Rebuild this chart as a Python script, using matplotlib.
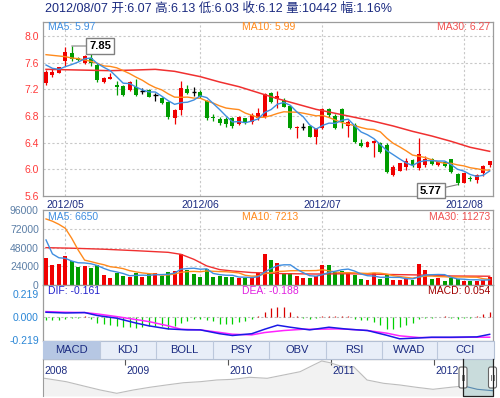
import numpy as np
import pandas as pd
import matplotlib
matplotlib.use("Agg")
import matplotlib.pyplot as plt
from matplotlib.patches import Rectangle, FancyBboxPatch
import matplotlib.transforms as mtransforms

plt.rcParams['font.family'] = ['Liberation Sans', 'Noto Sans CJK SC']

# Daily K-line, 2012/04/25 - 2012/08/07 (70 trading days)
opens = [7.30, 7.42, 7.45, 7.62, 7.75, 7.665, 7.59, 7.665, 7.565, 7.315,
         7.36, 7.26, 7.25, 7.19, 7.24, 7.17, 7.19, 7.11, 7.07, 7.01,
         6.77, 6.89, 7.205, 7.165, 7.165, 7.02, 6.785, 6.75, 6.75, 6.765,
         6.675, 6.765, 6.715, 6.765, 6.79, 7.14, 7.055, 7.04, 6.955, 6.62,
         6.64, 6.655, 6.49, 6.62, 6.905, 6.80, 6.905, 6.655, 6.66, 6.40,
         6.34, 6.40, 6.39, 6.36, 5.92, 5.98, 6.04, 6.14, 6.02, 6.07,
         6.15, 6.065, 6.115, 6.15, 5.93, 5.80, 5.865, 5.84, 5.94, 6.07]
highs = [7.49, 7.50, 7.54, 7.83, 7.85, 7.68, 7.71, 7.73, 7.59, 7.39,
         7.445, 7.32, 7.26, 7.33, 7.35, 7.22, 7.20, 7.14, 7.09, 7.02,
         6.90, 7.33, 7.26, 7.24, 7.19, 7.04, 6.83, 6.79, 6.79, 6.79,
         6.80, 6.77, 6.84, 6.915, 7.15, 7.165, 7.175, 7.07, 6.96, 6.65,
         6.69, 6.67, 6.62, 6.92, 6.925, 6.83, 6.925, 6.74, 6.70, 6.46,
         6.43, 6.44, 6.41, 6.39, 6.06, 6.10, 6.165, 6.16, 6.47, 6.20,
         6.17, 6.12, 6.13, 6.16, 5.94, 5.95, 5.90, 5.93, 6.07, 6.13]
lows = [7.26, 7.39, 7.44, 7.55, 7.63, 7.62, 7.58, 7.555, 7.315, 7.29,
        7.35, 7.12, 7.10, 7.18, 7.105, 7.13, 7.08, 7.02, 6.985, 6.75,
        6.68, 6.82, 7.135, 7.10, 7.075, 6.74, 6.72, 6.665, 6.63, 6.615,
        6.665, 6.68, 6.675, 6.74, 6.765, 6.99, 6.925, 6.93, 6.61, 6.47,
        6.59, 6.48, 6.375, 6.60, 6.79, 6.61, 6.625, 6.49, 6.40, 6.33,
        6.33, 6.18, 6.25, 5.94, 5.90, 5.97, 5.99, 6.04, 5.99, 6.04,
        6.07, 6.05, 6.04, 5.95, 5.77, 5.79, 5.82, 5.80, 5.90, 6.03]
closes = [7.46, 7.455, 7.53, 7.765, 7.65, 7.645, 7.70, 7.59, 7.34, 7.375,
          7.39, 7.24, 7.115, 7.315, 7.115, 7.17, 7.09, 7.11, 7.00, 6.78,
          6.895, 7.215, 7.145, 7.165, 7.09, 6.765, 6.775, 6.69, 6.675, 6.65,
          6.79, 6.69, 6.815, 6.84, 7.13, 7.005, 7.10, 6.94, 6.625, 6.64,
          6.64, 6.49, 6.615, 6.905, 6.815, 6.625, 6.715, 6.705, 6.41, 6.35,
          6.41, 6.425, 6.26, 5.965, 6.04, 6.09, 6.13, 6.06, 6.23, 6.15,
          6.08, 6.105, 6.055, 5.965, 5.80, 5.94, 5.85, 5.915, 6.05, 6.12]

volumes = [34300, 25300, 26600, 36900, 30900, 23200, 24000, 21500, 25300, 12500,
           8600, 15900, 11600, 10800, 15000, 9900, 14600, 15900, 11600, 16800,
           18000, 39500, 19800, 13800, 10300, 20600, 9900, 12000, 9900, 9900,
           9500, 8600, 9500, 15900, 39500, 31800, 27900, 14600, 15900, 11200,
           9500, 8600, 11200, 25800, 25800, 17200, 18000, 15500, 12900, 7300,
           6000, 15900, 7300, 13800, 6000, 6000, 7300, 6000, 26600, 18900,
           7400, 8700, 5000, 9500, 8300, 5600, 4800, 5400, 7000, 10442]
# u = red (up) bar, d = green (down) bar
vol_dir = ("uuuudduddu" "uddudududd" "uudddddddd" "uduuududdu" "uduudddudd"
           "uudduuuduu" "duddduduuu")

# moving-average values read from the chart where the window is not full
ma5_head = [7.565, 7.515, 7.50, 7.54]
ma10_head = [7.72, 7.71, 7.70, 7.69, 7.67, 7.66, 7.64, 7.62, 7.59]
ma30_idx = [0, 5, 10, 14, 17, 20, 24, 27, 30, 33, 36, 39, 42, 45, 48, 51, 54, 57, 60, 63, 66, 69]
ma30_val = [7.50, 7.49, 7.48, 7.49, 7.50, 7.47, 7.39, 7.31, 7.24, 7.15, 7.06, 6.98,
            6.90, 6.84, 6.78, 6.72, 6.65, 6.57, 6.50, 6.42, 6.33, 6.27]

vma5_head = [57900, 40000, 35000, 34300]
vma10_head = [84900, 82000, 78000, 72900, 60000, 45000, 32000, 30000, 27900]
vma30_idx = [0, 4, 9, 14, 19, 21, 23, 25, 27, 29, 32, 37, 42, 47, 52, 58, 63, 69]
vma30_val = [48000, 47300, 46000, 44100, 42000, 39400, 33000, 24500, 19800, 18000,
             16000, 14600, 14100, 14500, 13700, 12900, 11600, 11273]

# MACD
macd_bar = [-0.025, -0.03, -0.03, -0.02, -0.01, -0.005, 0.008, -0.02, -0.05, -0.06,
            -0.07, -0.085, -0.09, -0.09, -0.10, -0.09, -0.085, -0.08, -0.085, -0.11,
            -0.08, -0.055, -0.035, -0.02, -0.015, -0.03, -0.04, -0.06, -0.065, -0.065,
            -0.045, -0.035, -0.02, 0.01, 0.05, 0.085, 0.095, 0.10, 0.05, 0.015,
            -0.01, -0.02, -0.01, 0.008, 0.015, 0.012, 0.015, 0.01, -0.02, -0.03,
            -0.03, -0.045, -0.075, -0.11, -0.11, -0.09, -0.07, -0.05, -0.02, -0.01,
            -0.005, 0.005, 0.01, -0.005, -0.015, -0.01, -0.005, 0.01, 0.03, 0.054]
dif_idx = [0, 3, 6, 8, 11, 14, 16, 19, 22, 24, 27, 29, 32, 34, 36, 38, 41, 44, 47,
           50, 53, 55, 58, 60, 63, 67, 69]
dif_val = [0.047, 0.040, 0.044, 0.016, -0.009, -0.055, -0.081, -0.11, -0.119, -0.119,
           -0.155, -0.172, -0.155, -0.113, -0.075, -0.094, -0.119, -0.094, -0.113,
           -0.125, -0.170, -0.203, -0.195, -0.188, -0.188, -0.185, -0.161]
dea_idx = [0, 3, 6, 8, 11, 14, 16, 19, 21, 24, 27, 29, 32, 34, 37, 40, 42, 45, 47,
           50, 53, 55, 58, 60, 63, 66, 69]
dea_val = [0.053, 0.047, 0.044, 0.031, 0.006, -0.022, -0.041, -0.081, -0.113, -0.119,
           -0.143, -0.160, -0.166, -0.144, -0.125, -0.113, -0.113, -0.110, -0.113,
           -0.125, -0.150, -0.175, -0.191, -0.191, -0.191, -0.188, -0.188]

month_idx = [3, 24, 43, 65]
month_labels = ['2012/05', '2012/06', '2012/07', '2012/08']

# long-term navigator (relative level, 2008 - 2012/08)
nav_year = [2008.20, 2008.22, 2008.43, 2008.60, 2008.76, 2008.92, 2009.08, 2009.24, 2009.40,
            2009.57, 2009.73, 2009.89, 2010.05, 2010.21, 2010.38, 2010.54, 2010.70,
            2010.83, 2010.91, 2010.99, 2011.09, 2011.22, 2011.35, 2011.51, 2011.67,
            2011.83, 2011.99, 2012.16, 2012.29, 2012.42, 2012.57]
nav_level = [17.5, 17.7, 14.3, 10.0, 6.0, 2.7, 6.0, 8.7, 11.0, 13.3, 14.3, 16.0, 16.7,
             18.7, 17.7, 21.0, 24.3, 31.0, 35.0, 33.3, 30.0, 29.3, 16.0, 12.7, 11.0,
             8.7, 6.7, 8.7, 10.0, 6.7, 5.3]
nav_years = [2009, 2010, 2011, 2012]

tabs = ['MACD', 'KDJ', 'BOLL', 'PSY', 'OBV', 'RSI', 'WVAD', 'CCI']

# ---------------------------------------------------------------
RED = '#f00000'
GREEN = '#009c00'
FRAME = '#9c9c9c'
GRID = '#c8c8c8'
NAVY = '#1a2a80'
MA5_C, MA10_C, MA30_C = '#3f8ee0', '#ff8a1c', '#f03030'
FS = 7.5

W, H = 500, 398
fig = plt.figure(figsize=(W / 100, H / 100), dpi=100)


def px_axes(l, t, r, b, **kw):
    return fig.add_axes([l / W, 1 - b / H, (r - l) / W, (b - t) / H], **kw)


def ftext(xp, yp, s, **kw):
    fig.text(xp / W, 1 - yp / H, s, **kw)


def style(a):
    for sp in a.spines.values():
        sp.set_color(FRAME)
        sp.set_linewidth(0.9)
    a.set_xticks([])
    a.tick_params(axis='y', length=0, pad=3, labelsize=FS)


x = np.arange(len(closes))
o = np.array(opens)
h = np.array(highs)
l = np.array(lows)
c = np.array(closes)
xlim = (-0.47, 69.52)

# ---- price panel
ax = px_axes(43, 22, 493, 196)
style(ax)
ax.set_xlim(*xlim)
ax.set_ylim(5.6, 8.21)
pticks = [5.6, 6.0, 6.4, 6.8, 7.2, 7.6, 8.0]
ax.set_yticks(pticks)
ax.set_yticklabels([f'{t:.1f}' for t in pticks], color='#ff3a3a')
for t in pticks[1:]:
    ax.axhline(t, color=GRID, lw=0.8, ls=(0, (2, 2)), zorder=1)
for m in month_idx:
    ax.axvline(m, color=GRID, lw=0.8, ls=(0, (2, 2)), zorder=1)

cols = np.where(c > o, RED, np.where(c < o, GREEN, 'black'))
ax.vlines(x, l, h, colors=cols, lw=0.9, zorder=3)
body = c != o
ax.bar(x[body], np.abs(c - o)[body], bottom=np.minimum(o, c)[body], width=0.62,
       color=cols[body], lw=0, zorder=4)
flat = ~body
ax.hlines(c[flat], x[flat] - 0.35, x[flat] + 0.35, colors='black', lw=1, zorder=4)

ma5 = pd.Series(closes).rolling(5).mean().to_numpy()
ma5[:4] = ma5_head
ma10 = pd.Series(closes).rolling(10).mean().to_numpy()
ma10[:9] = ma10_head
ax.plot(ma30_idx, ma30_val, color=MA30_C, lw=1.1, zorder=5)
ax.plot(x, ma10, color=MA10_C, lw=1.0, zorder=5)
ax.plot(x, ma5, color=MA5_C, lw=1.0, zorder=6)

hi = int(np.argmax(h))
lo = int(np.argmin(l))
box = dict(boxstyle='square,pad=0.25', fc='white', ec='#808080', lw=1)
line = dict(arrowstyle='-', color='#808080', lw=0.8, shrinkA=0, shrinkB=0)
ax.annotate(f'{h[hi]:.2f}', xy=(hi, h[hi]), xytext=(20.5, 0), textcoords='offset points',
            ha='center', va='center', fontsize=8, fontweight='bold', bbox=box,
            arrowprops=line, annotation_clip=False, zorder=8)
ax.annotate(f'{l[lo]:.2f}', xy=(lo, l[lo]), xytext=(-19.2, -4.3), textcoords='offset points',
            ha='center', va='center', fontsize=8, fontweight='bold', bbox=box,
            arrowprops=line, annotation_clip=False, zorder=8)

trans = mtransforms.blended_transform_factory(ax.transData, ax.transAxes)
for k, (m, lab) in enumerate(zip(month_idx, month_labels)):
    if k == 0:
        ax.text(0, -0.049, lab, transform=trans, ha='left', va='center',
                fontsize=FS, color=NAVY)
    else:
        ax.text(m, -0.049, lab, transform=trans, ha='center', va='center',
                fontsize=FS, color=NAVY)

# ---- volume panel
axv = px_axes(43, 209.5, 493, 285)
style(axv)
axv.set_xlim(*xlim)
axv.set_ylim(0, 97050)
vticks = [0, 24000, 48000, 72000, 96000]
axv.set_yticks(vticks)
axv.set_yticklabels([str(t) for t in vticks], color='#5b7ea6')
for t in vticks[1:4]:
    axv.axhline(t, color=GRID, lw=0.8, ls=(0, (2, 2)), zorder=1)
for m in month_idx:
    axv.axvline(m, color=GRID, lw=0.8, ls=(0, (2, 2)), zorder=1)
vcols = [RED if d == 'u' else GREEN for d in vol_dir]
axv.bar(x, volumes, width=0.62, color=vcols, lw=0, zorder=3)
vma5 = pd.Series(volumes).rolling(5).mean().to_numpy()
vma5[:4] = vma5_head
vma10 = pd.Series(volumes).rolling(10).mean().to_numpy()
vma10[:9] = vma10_head
axv.plot(vma30_idx, vma30_val, color=MA30_C, lw=1.0, zorder=4)
axv.plot(x, vma10, color=MA10_C, lw=1.0, zorder=4)
axv.plot(x, vma5, color=MA5_C, lw=1.0, zorder=5)

# ---- MACD panel
axm = px_axes(43, 285, 493, 340.5)
style(axm)
axm.set_xlim(*xlim)
axm.set_ylim(-0.218, 0.3036)
mticks = [-0.219, 0.0, 0.219]
axm.set_yticks(mticks)
axm.set_yticklabels(['-0.219', '0.000', '0.219'], color='#2a86d6')
axm.axhline(0, color='#bbbbbb', lw=0.8, ls=(0, (2, 2)), zorder=1)
mb = np.array(macd_bar)
axm.vlines(x, 0, mb, colors=np.where(mb >= 0, '#d80000', '#00d000'), lw=0.9, zorder=3)
axm.plot(dea_idx, dea_val, color='#ff22ff', lw=1.1, zorder=4)
axm.plot(dif_idx, dif_val, color='#1a1ae6', lw=1.1, zorder=5)

# ---- navigator
axn = px_axes(43, 359, 493, 396)
yr0 = 2009 + (43 - 125) / 103
yr1 = 2009 + (493 - 125) / 103
axn.set_xlim(yr0, yr1)
axn.set_ylim(0, 37)
axn.set_yticks([])
for k in ['right', 'bottom']:
    axn.spines[k].set_visible(False)
axn.spines['left'].set_color(FRAME)
axn.spines['top'].set_color('#222222')
axn.set_xticks(nav_years)
axn.tick_params(axis='x', top=True, bottom=False, direction='in', length=4,
                color='#555555', labeltop=False, labelbottom=False)
axn.fill_between(nav_year, nav_level, 0, color='#f2f2f2', lw=0)
axn.plot(nav_year, nav_level, color='#bdbdbd', lw=0.8)
sel0 = 2009 + (463 - 125) / 103
axn.axvspan(sel0, yr1, color='#c3d9d9', alpha=0.9, lw=0, zorder=3)
sel = [p for p in zip(nav_year, nav_level) if p[0] >= sel0 - 0.05]
axn.plot([p[0] for p in sel], [p[1] for p in sel], color='#5a8ab0', lw=0.8, zorder=4)
ntrans = mtransforms.blended_transform_factory(axn.transData, axn.transAxes)
for yv in [2008] + nav_years:
    xv = yr0 + 0.01 if yv == 2008 else yv + 0.012
    axn.text(xv, 0.68, str(yv), transform=ntrans, ha='left', va='center',
             fontsize=FS, color=NAVY, zorder=5)

# ---- overlay (tab bar, selection handles)
axo = fig.add_axes([0, 0, 1, 1], zorder=10)
axo.set_xlim(0, W)
axo.set_ylim(H, 0)
axo.axis('off')
edges = [43, 100, 156, 213, 269, 326, 382, 437, 494]
axo.add_patch(Rectangle((43, 340.5), 451, 18, fc='#e8eef8', ec='#b4c0d4', lw=0.8))
axo.add_patch(Rectangle((43, 340.5), edges[1] - 43, 18, fc='#b6c7e3', ec='none'))
for e in edges[1:-1]:
    axo.plot([e, e], [341, 358], color='#bcc8dc', lw=0.8)
for k, name in enumerate(tabs):
    axo.text((edges[k] + edges[k + 1]) / 2, 350, name, ha='center', va='center',
             fontsize=8, color=NAVY)
axo.plot([463, 463, 493, 493], [359, 396, 396, 359], color='#222222', lw=0.9)
for hx in [459, 488.5]:
    axo.add_patch(FancyBboxPatch((hx, 367), 8, 21, boxstyle='round,pad=0,rounding_size=2',
                                 fc='white', ec='#666666', lw=0.8))
    for dx in [2.8, 5.2]:
        axo.plot([hx + dx, hx + dx], [375, 380], color='#777777', lw=0.7)

# ---- texts
ftext(45, 8.5, '2012/08/07 开:6.07 高:6.13 低:6.03 收:6.12 量:10442 幅:1.16%',
      fontsize=9, color=NAVY, ha='left', va='center')
ftext(48, 27.5, 'MA5: 5.97', fontsize=FS, color=MA5_C, va='center')
ftext(242, 27.5, 'MA10: 5.99', fontsize=FS, color=MA10_C, va='center')
ftext(490, 27.5, 'MA30: 6.27', fontsize=FS, color='#f05050', va='center', ha='right')
ftext(48, 217, 'MA5: 6650', fontsize=FS, color=MA5_C, va='center')
ftext(242, 217, 'MA10: 7213', fontsize=FS, color=MA10_C, va='center')
ftext(490, 217, 'MA30: 11273', fontsize=FS, color='#f05050', va='center', ha='right')
ftext(48, 291.5, 'DIF: -0.161', fontsize=FS, color='#2222cc', va='center')
ftext(242, 291.5, 'DEA: -0.188', fontsize=FS, color='#e020e0', va='center')
ftext(490, 291.5, 'MACD: 0.054', fontsize=FS, color='#a00000', va='center', ha='right')

fig.savefig('out.png', dpi=100)
